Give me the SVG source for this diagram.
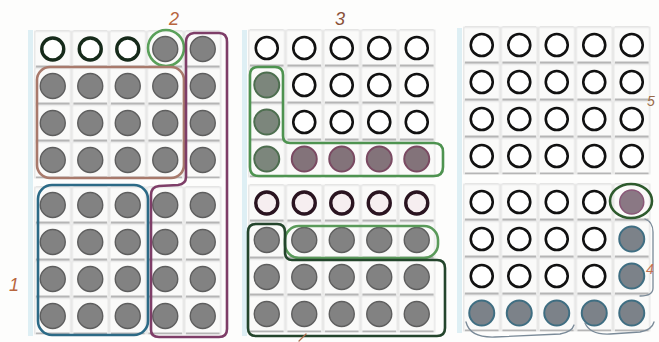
<svg xmlns="http://www.w3.org/2000/svg" xmlns:xlink="http://www.w3.org/1999/xlink" width="659" height="342" viewBox="0 0 659 342">
<style>
.loop{fill:none;stroke-width:2.6;stroke-linecap:round;stroke-linejoin:round}
.thin{fill:none;stroke-width:1.3;stroke-linecap:round}
.lbl{font-family:"Liberation Sans",Arial,sans-serif;font-size:18px;font-style:italic}
.sm{font-size:14px}
.strip{fill:#deeff4}
</style>
<defs>
<pattern id="cells" width="37.5" height="37" patternUnits="userSpaceOnUse">
<rect x="0.8" y="0.8" width="35.9" height="35.4" fill="#fafaf9" stroke="#dedede" stroke-width="1"/>
<line x1="2" y1="36" x2="35.5" y2="36" stroke="#a2a2a2" stroke-width="1.4"/>
</pattern>
<circle id="o" r="11" fill="#fff" stroke="#111" stroke-width="2.6"/>
<circle id="og" r="11" fill="#fff" stroke="#162a1a" stroke-width="3.4"/>
<circle id="op" r="11" fill="#f6eef0" stroke="#2a1420" stroke-width="3.4"/>
<circle id="f" r="12.5" fill="#828282" stroke="#5e5e5e" stroke-width="1.4"/>
<circle id="fg" r="12.5" fill="#7c867c" stroke="#4d6e4f" stroke-width="2"/>
<circle id="fp" r="12.5" fill="#83737a" stroke="#7a4a62" stroke-width="2"/>
<circle id="fb" r="12.5" fill="#7c8289" stroke="#3f6e82" stroke-width="2"/>
<circle id="fk" r="12" fill="#8a7884" stroke="#8a5878" stroke-width="1.5"/>
</defs>
<rect width="659" height="342" fill="#fdfdfc"/>

<g id="panel1">
<rect class="strip" x="28" y="30" width="5" height="306"/>
<g transform="translate(34,30.5)">
<rect width="187.5" height="148" fill="url(#cells)"/>
<use xlink:href="#og" x="18.75" y="18.5"/><use xlink:href="#og" x="56.25" y="18.5"/><use xlink:href="#og" x="93.75" y="18.5"/><use xlink:href="#f" x="131.25" y="18.5"/><use xlink:href="#f" x="168.75" y="18.5"/>
<use xlink:href="#f" x="18.75" y="55.5"/><use xlink:href="#f" x="56.25" y="55.5"/><use xlink:href="#f" x="93.75" y="55.5"/><use xlink:href="#f" x="131.25" y="55.5"/><use xlink:href="#f" x="168.75" y="55.5"/>
<use xlink:href="#f" x="18.75" y="92.5"/><use xlink:href="#f" x="56.25" y="92.5"/><use xlink:href="#f" x="93.75" y="92.5"/><use xlink:href="#f" x="131.25" y="92.5"/><use xlink:href="#f" x="168.75" y="92.5"/>
<use xlink:href="#f" x="18.75" y="129.5"/><use xlink:href="#f" x="56.25" y="129.5"/><use xlink:href="#f" x="93.75" y="129.5"/><use xlink:href="#f" x="131.25" y="129.5"/><use xlink:href="#f" x="168.75" y="129.5"/>
</g>
<g transform="translate(34,186.5)">
<rect width="187.5" height="148" fill="url(#cells)"/>
<use xlink:href="#f" x="18.75" y="18.5"/><use xlink:href="#f" x="56.25" y="18.5"/><use xlink:href="#f" x="93.75" y="18.5"/><use xlink:href="#f" x="131.25" y="18.5"/><use xlink:href="#f" x="168.75" y="18.5"/>
<use xlink:href="#f" x="18.75" y="55.5"/><use xlink:href="#f" x="56.25" y="55.5"/><use xlink:href="#f" x="93.75" y="55.5"/><use xlink:href="#f" x="131.25" y="55.5"/><use xlink:href="#f" x="168.75" y="55.5"/>
<use xlink:href="#f" x="18.75" y="92.5"/><use xlink:href="#f" x="56.25" y="92.5"/><use xlink:href="#f" x="93.75" y="92.5"/><use xlink:href="#f" x="131.25" y="92.5"/><use xlink:href="#f" x="168.75" y="92.5"/>
<use xlink:href="#f" x="18.75" y="129.5"/><use xlink:href="#f" x="56.25" y="129.5"/><use xlink:href="#f" x="93.75" y="129.5"/><use xlink:href="#f" x="131.25" y="129.5"/><use xlink:href="#f" x="168.75" y="129.5"/>
</g>
</g>

<g id="panel2">
<rect class="strip" x="242" y="30" width="5" height="306"/>
<g transform="translate(248,29.5)">
<rect width="187.5" height="148" fill="url(#cells)"/>
<use xlink:href="#o" x="18.75" y="18.5"/><use xlink:href="#o" x="56.25" y="18.5"/><use xlink:href="#o" x="93.75" y="18.5"/><use xlink:href="#o" x="131.25" y="18.5"/><use xlink:href="#o" x="168.75" y="18.5"/>
<use xlink:href="#fg" x="18.75" y="55.5"/><use xlink:href="#o" x="56.25" y="55.5"/><use xlink:href="#o" x="93.75" y="55.5"/><use xlink:href="#o" x="131.25" y="55.5"/><use xlink:href="#o" x="168.75" y="55.5"/>
<use xlink:href="#fg" x="18.75" y="92.5"/><use xlink:href="#o" x="56.25" y="92.5"/><use xlink:href="#o" x="93.75" y="92.5"/><use xlink:href="#o" x="131.25" y="92.5"/><use xlink:href="#o" x="168.75" y="92.5"/>
<use xlink:href="#fg" x="18.75" y="129.5"/><use xlink:href="#fp" x="56.25" y="129.5"/><use xlink:href="#fp" x="93.75" y="129.5"/><use xlink:href="#fp" x="131.25" y="129.5"/><use xlink:href="#fp" x="168.75" y="129.5"/>
</g>
<g transform="translate(248,184.5)">
<rect width="187.5" height="148" fill="url(#cells)"/>
<use xlink:href="#op" x="18.75" y="18.5"/><use xlink:href="#op" x="56.25" y="18.5"/><use xlink:href="#op" x="93.75" y="18.5"/><use xlink:href="#op" x="131.25" y="18.5"/><use xlink:href="#op" x="168.75" y="18.5"/>
<use xlink:href="#f" x="18.75" y="55.5"/><use xlink:href="#f" x="56.25" y="55.5"/><use xlink:href="#f" x="93.75" y="55.5"/><use xlink:href="#f" x="131.25" y="55.5"/><use xlink:href="#f" x="168.75" y="55.5"/>
<use xlink:href="#f" x="18.75" y="92.5"/><use xlink:href="#f" x="56.25" y="92.5"/><use xlink:href="#f" x="93.75" y="92.5"/><use xlink:href="#f" x="131.25" y="92.5"/><use xlink:href="#f" x="168.75" y="92.5"/>
<use xlink:href="#f" x="18.75" y="129.5"/><use xlink:href="#f" x="56.25" y="129.5"/><use xlink:href="#f" x="93.75" y="129.5"/><use xlink:href="#f" x="131.25" y="129.5"/><use xlink:href="#f" x="168.75" y="129.5"/>
</g>
</g>

<g id="panel3">
<rect class="strip" x="457" y="28" width="5" height="305"/>
<g transform="translate(463,26.5)">
<rect width="187.5" height="148" fill="url(#cells)"/>
<use xlink:href="#o" x="18.75" y="18.5"/><use xlink:href="#o" x="56.25" y="18.5"/><use xlink:href="#o" x="93.75" y="18.5"/><use xlink:href="#o" x="131.25" y="18.5"/><use xlink:href="#o" x="168.75" y="18.5"/>
<use xlink:href="#o" x="18.75" y="55.5"/><use xlink:href="#o" x="56.25" y="55.5"/><use xlink:href="#o" x="93.75" y="55.5"/><use xlink:href="#o" x="131.25" y="55.5"/><use xlink:href="#o" x="168.75" y="55.5"/>
<use xlink:href="#o" x="18.75" y="92.5"/><use xlink:href="#o" x="56.25" y="92.5"/><use xlink:href="#o" x="93.75" y="92.5"/><use xlink:href="#o" x="131.25" y="92.5"/><use xlink:href="#o" x="168.75" y="92.5"/>
<use xlink:href="#o" x="18.75" y="129.5"/><use xlink:href="#o" x="56.25" y="129.5"/><use xlink:href="#o" x="93.75" y="129.5"/><use xlink:href="#o" x="131.25" y="129.5"/><use xlink:href="#o" x="168.75" y="129.5"/>
</g>
<g transform="translate(463,183.5)">
<rect width="187.5" height="148" fill="url(#cells)"/>
<use xlink:href="#o" x="18.75" y="18.5"/><use xlink:href="#o" x="56.25" y="18.5"/><use xlink:href="#o" x="93.75" y="18.5"/><use xlink:href="#o" x="131.25" y="18.5"/><use xlink:href="#fk" x="168.75" y="18.5"/>
<use xlink:href="#o" x="18.75" y="55.5"/><use xlink:href="#o" x="56.25" y="55.5"/><use xlink:href="#o" x="93.75" y="55.5"/><use xlink:href="#o" x="131.25" y="55.5"/><use xlink:href="#fb" x="168.75" y="55.5"/>
<use xlink:href="#o" x="18.75" y="92.5"/><use xlink:href="#o" x="56.25" y="92.5"/><use xlink:href="#o" x="93.75" y="92.5"/><use xlink:href="#o" x="131.25" y="92.5"/><use xlink:href="#fb" x="168.75" y="92.5"/>
<use xlink:href="#fb" x="18.75" y="129.5"/><use xlink:href="#fb" x="56.25" y="129.5"/><use xlink:href="#fb" x="93.75" y="129.5"/><use xlink:href="#fb" x="131.25" y="129.5"/><use xlink:href="#fb" x="168.75" y="129.5"/>
</g>
</g>

<g id="loops">
<circle class="loop" cx="166" cy="48" r="18" stroke="#5aa05a"/>
<rect class="loop" x="37" y="67" width="147" height="111" rx="13" stroke="#a87a6c"/>
<path class="loop" stroke="#7e3e68" d="M194 33 Q186 34 186 42 L186 177 Q186 184 178 185 L159 186 Q151 187 151 195 L151 330 Q151 337 159 337 L219 337 Q227 337 227 329 L227 42 Q227 33 219 33 Z"/>
<rect class="loop" x="38" y="185" width="110" height="150" rx="14" stroke="#2c6a86"/>
<path class="loop" stroke="#4e9350" d="M258 67 Q250 67 250 75 L250 167 Q250 176 259 176 L434 176 Q443 176 443 167 L443 152 Q443 143 434 143 L290 143 Q283 143 283 136 L283 75 Q283 67 275 67 Z"/>
<rect class="loop" x="285" y="226" width="153" height="32" rx="14" stroke="#5a9a5a"/>
<path class="loop" stroke="#24452c" stroke-width="3" d="M256 224 Q248 224 248 232 L248 328 Q248 336 256 336 L437 336 Q445 336 445 328 L445 268 Q445 260 437 260 L292 260 Q285 260 285 252 L285 232 Q285 224 277 224 Z"/>
<ellipse class="loop" cx="631" cy="201" rx="21" ry="17" stroke="#2d5a2d" stroke-width="3"/>
<path class="thin" stroke="#7a8a98" d="M645 219 Q653 222 653 232 L653 288 Q653 296 640 296"/>
<path class="thin" stroke="#7a8a98" d="M466 322 Q470 338 495 337 L560 334 Q572 332 574 325"/>
<path class="thin" stroke="#7a8a98" d="M585 323 Q590 335 610 334 L640 332 Q652 330 654 322"/>
<path class="thin" stroke="#b07050" stroke-width="1.6" d="M299 341 L306 334"/>
</g>

<g id="labels">
<text class="lbl" x="169" y="25" fill="#b8663e">2</text>
<text class="lbl" x="335" y="25" fill="#8a5038">3</text>
<text class="lbl" x="9" y="291" fill="#b8663e">1</text>
<text class="lbl sm" x="647" y="106" fill="#9a6a4a">5</text>
<text class="lbl sm" x="646" y="274" fill="#c07050">4</text>
</g>
</svg>
